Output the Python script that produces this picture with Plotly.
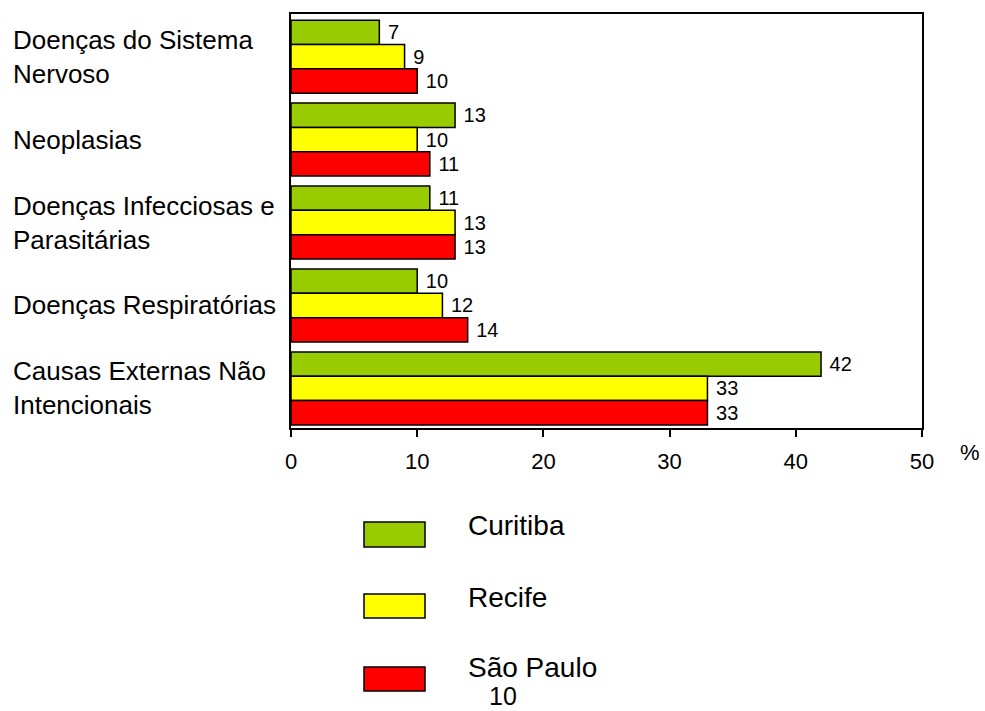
import plotly.graph_objects as go

categories = [
    "Doenças do Sistema<br>Nervoso",
    "Neoplasias",
    "Doenças Infecciosas e<br>Parasitárias",
    "Doenças Respiratórias",
    "Causas Externas Não<br>Intencionais",
]
curitiba = [7, 13, 11, 10, 42]
recife = [9, 10, 13, 12, 33]
sao_paulo = [10, 11, 13, 14, 33]
series_names = ["Curitiba", "Recife", "São Paulo"]
series_colors = ["#99CC00", "#FFFF00", "#FF0000"]
x_ticks = [0, 10, 20, 30, 40, 50]

FONT = "Liberation Sans, Arial, sans-serif"

# plot area in pixels
L, R, T, B = 291, 922, 14, 428
W, H = 985, 711


def px(x):
    return (x - L) / (R - L)


def py(y):
    return (B - y) / (B - T)


fig = go.Figure()
ypos = list(range(len(categories)))
for name, vals, col in zip(series_names, [curitiba, recife, sao_paulo], series_colors):
    fig.add_trace(go.Bar(
        name=name, y=ypos, x=vals, orientation="h",
        marker=dict(color=col, line=dict(color="black", width=1.5)),
        text=["\u00a0" + str(v) for v in vals], textposition="outside",
        constraintext="none",
        textfont=dict(size=20, color="black", family=FONT),
        cliponaxis=False, showlegend=False,
    ))

annotations = []
for i, c in enumerate(categories):
    annotations.append(dict(
        x=px(11), xref="paper", y=i, yref="y", text=c, showarrow=False,
        xanchor="left", yanchor="middle", align="left",
        font=dict(size=26, color="black", family=FONT),
    ))

shapes = []
legend_rows = [(522, 547, 525), (594, 618, 597), (667, 691, 667)]
for (y0, y1, ty), name, col in zip(legend_rows, series_names, series_colors):
    shapes.append(dict(type="rect", xref="paper", yref="paper",
                       x0=px(364), x1=px(425), y0=py(y1), y1=py(y0),
                       fillcolor=col, line=dict(color="black", width=1.5)))
    annotations.append(dict(x=px(467), y=py(ty), xref="paper", yref="paper",
                            text=name, showarrow=False, xanchor="left",
                            yanchor="middle", borderpad=0,
                            font=dict(size=28, color="black", family=FONT)))

annotations.append(dict(x=px(970), y=py(452), xref="paper", yref="paper",
                        text="%", showarrow=False, xanchor="center",
                        yanchor="middle",
                        font=dict(size=22, color="black", family=FONT)))
annotations.append(dict(x=px(503), y=py(711), xref="paper", yref="paper",
                        text="10", showarrow=False, xanchor="center",
                        yanchor="bottom", borderpad=0,
                        font=dict(size=25, color="black", family=FONT)))

fig.update_layout(
    width=W, height=H,
    margin=dict(l=L, r=W - R, t=T, b=H - B, pad=0),
    paper_bgcolor="white", plot_bgcolor="white",
    barmode="group", bargap=0.12, bargroupgap=0,
    font=dict(family=FONT, color="black"),
    xaxis=dict(range=[0, 50], tickvals=x_ticks, showgrid=False, zeroline=False,
               showline=True, linecolor="black", linewidth=2, mirror=True,
               ticks="outside", ticklen=7, tickwidth=2, tickcolor="black",
               ticklabelstandoff=6,
               tickfont=dict(size=22, family=FONT, color="black")),
    yaxis=dict(range=[4.477, -0.514], showgrid=False, zeroline=False,
               showline=True, linecolor="black", linewidth=2, mirror=True,
               showticklabels=False, ticks=""),
    annotations=annotations, shapes=shapes,
)

fig.write_html("out.html")
